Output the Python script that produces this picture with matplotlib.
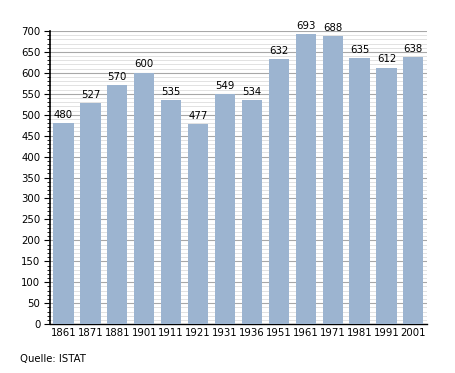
import matplotlib
matplotlib.use('Agg')
import matplotlib.pyplot as plt
import numpy as np

years = ['1861', '1871', '1881', '1901', '1911', '1921', '1931', '1936',
         '1951', '1961', '1971', '1981', '1991', '2001']
population = [480, 527, 570, 600, 535, 477, 549, 534, 632, 693, 688, 635, 612, 638]

fig = plt.figure(figsize=(4.55, 3.73), dpi=100)
ax = fig.add_axes([0.11, 0.131, 0.828, 0.786])

x = np.arange(len(years))
ax.bar(x, population, width=0.75, color='#9cb4d0', zorder=3)
for xi, v in zip(x, population):
    ax.text(xi, v + 8, str(v), ha='center', va='bottom', fontsize=7.3, zorder=4)

ax.set_xlim(-0.5, len(years) - 0.5)
ax.set_ylim(0, 700)
ax.set_xticks(x)
ax.set_xticklabels(years)
ax.set_yticks(np.arange(0, 701, 50))
ax.set_yticks(np.arange(0, 701, 10), minor=True)
ax.grid(axis='y', which='major', color='#a8a8a8', linewidth=0.8, zorder=0)
ax.grid(axis='y', which='minor', color='#dddddd', linewidth=0.6, zorder=0)
ax.tick_params(axis='x', length=0, labelsize=7.3, pad=3)
ax.tick_params(axis='y', which='major', length=4, labelsize=7.3, direction='out', pad=3)
ax.tick_params(axis='y', which='minor', length=2, direction='out')
for s in ['top', 'right']:
    ax.spines[s].set_visible(False)
ax.spines['left'].set_linewidth(1.2)
ax.spines['bottom'].set_linewidth(1.0)

fig.text(0.044, 0.03, 'Quelle: ISTAT', fontsize=7.3)

plt.savefig('out.png', dpi=100)
